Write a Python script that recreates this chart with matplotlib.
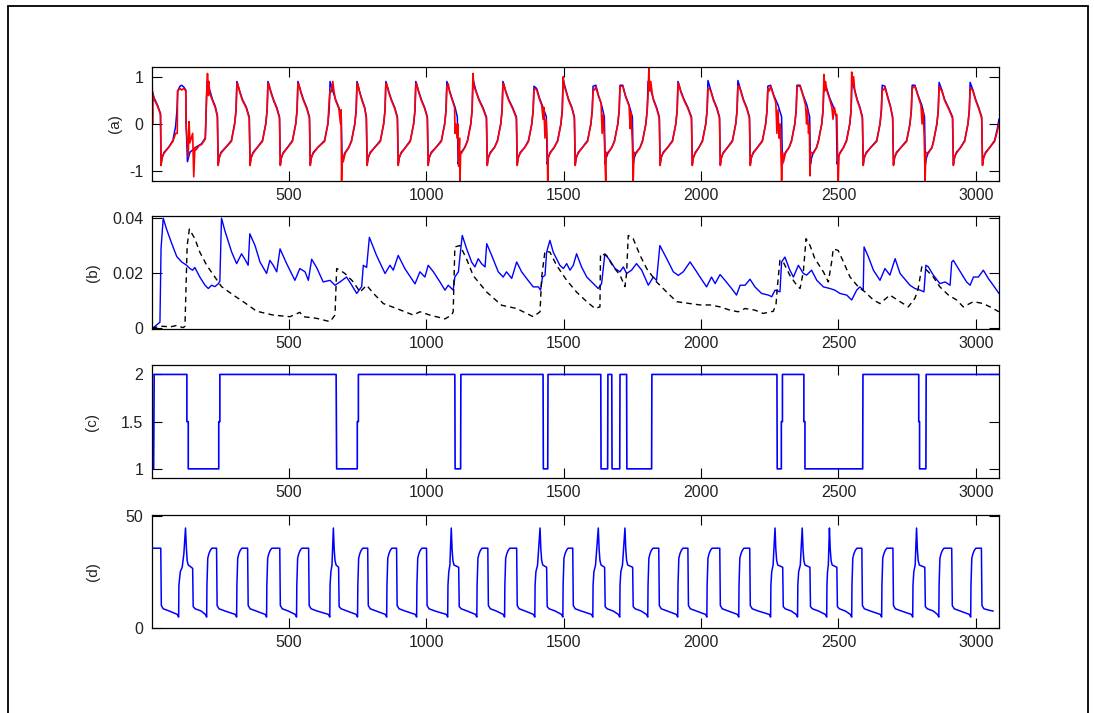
import matplotlib
matplotlib.use("Agg")
import matplotlib.pyplot as plt
from matplotlib.patches import Rectangle

# ===================== data =====================
# (a) blue: original signal, vertices (sample, value)
a_blue = [
    (1, 0.75), (10, 0.55), (22, 0.4), (33, 0.22),
    (35, -0.85), (39, -0.72), (46, -0.6), (62, -0.5), (78, -0.35), (88, -0.05), (93, 0.3), (96, 0.7),
    (104, 0.8), (110, 0.82), (118, 0.78), (125, 0.72), (126, 0.05),
    (131, -0.8), (140, -0.6), (160, -0.5), (182, -0.42), (196, -0.3), (199, 0.2), (202, 0.9),
    (212, 0.72), (222, 0.52), (232, 0.38), (240, 0.18),
    (243, -0.85), (247, -0.72), (253, -0.6), (270, -0.5), (291, -0.35), (303, 0.02), (308, 0.3), (311, 0.9),
    (321, 0.7), (331, 0.52), (345, 0.36), (356, 0.15),
    (359, -0.85), (363, -0.72), (370, -0.6), (385, -0.5), (404, -0.35), (416, 0.0), (421, 0.3), (424, 0.9),
    (434, 0.7), (444, 0.52), (456, 0.35), (466, 0.15),
    (469, -0.85), (473, -0.72), (480, -0.6), (495, -0.5), (513, -0.35), (525, 0.0), (530, 0.3), (533, 0.9),
    (543, 0.7), (553, 0.52), (565, 0.35), (575, 0.15),
    (578, -0.85), (582, -0.72), (589, -0.6), (605, -0.5), (630, -0.35), (642, 0.0), (647, 0.3), (650, 0.9),
    (660, 0.7), (670, 0.52), (682, 0.35), (691, 0.15),
    (694, -0.85), (698, -0.72), (705, -0.6), (718, -0.5), (728, -0.35), (740, 0.0), (745, 0.3), (748, 0.9),
    (757, 0.7), (766, 0.52), (776, 0.35), (782, 0.15),
    (785, -0.85), (789, -0.72), (796, -0.6), (812, -0.5), (833, -0.35), (845, 0.0), (850, 0.3), (853, 0.9),
    (863, 0.7), (873, 0.52), (885, 0.35), (895, 0.15),
    (898, -0.85), (902, -0.72), (909, -0.6), (924, -0.5), (942, -0.35), (954, 0.0), (959, 0.3), (962, 0.9),
    (972, 0.7), (982, 0.52), (994, 0.35), (1004, 0.15),
    (1007, -0.85), (1011, -0.72), (1018, -0.6), (1035, -0.5), (1055, -0.35), (1067, 0.0), (1072, 0.3), (1075, 0.9),
    (1085, 0.7), (1095, 0.52), (1105, 0.35), (1113, 0.15),
    (1116, -0.85), (1120, -0.72), (1127, -0.6), (1140, -0.5), (1150, -0.35), (1162, 0.0), (1167, 0.3), (1170, 0.95),
    (1180, 0.72), (1192, 0.52), (1206, 0.35), (1219, 0.15),
    (1222, -0.85), (1226, -0.72), (1233, -0.6), (1248, -0.5), (1259, -0.35), (1271, 0.0), (1276, 0.3), (1279, 0.9),
    (1289, 0.7), (1300, 0.52), (1314, 0.35), (1328, 0.15),
    (1331, -0.85), (1335, -0.72), (1342, -0.6), (1358, -0.5), (1372, -0.35), (1384, 0.0), (1389, 0.3), (1392, 0.8),
    (1402, 0.75), (1412, 0.55), (1425, 0.35), (1437, 0.15),
    (1440, -0.85), (1444, -0.72), (1451, -0.6), (1465, -0.5), (1478, -0.35), (1490, 0.0), (1495, 0.3), (1498, 0.95),
    (1508, 0.72), (1518, 0.52), (1530, 0.35), (1539, 0.15),
    (1542, -0.85), (1546, -0.72), (1553, -0.6), (1568, -0.5), (1587, -0.35), (1599, 0.0), (1604, 0.3), (1607, 0.8),
    (1617, 0.82), (1627, 0.6), (1638, 0.4), (1648, 0.15),
    (1651, -0.85), (1655, -0.72), (1662, -0.6), (1675, -0.5), (1685, -0.35), (1697, 0.0), (1702, 0.3), (1705, 0.82),
    (1715, 0.82), (1725, 0.6), (1738, 0.4), (1750, 0.15),
    (1753, -0.85), (1757, -0.72), (1764, -0.6), (1778, -0.5), (1787, -0.35), (1799, 0.0), (1804, 0.3), (1807, 0.9),
    (1817, 0.72), (1827, 0.52), (1838, 0.35), (1848, 0.15),
    (1851, -0.85), (1855, -0.72), (1862, -0.6), (1878, -0.5), (1896, -0.35), (1908, 0.0), (1913, 0.3), (1916, 0.9),
    (1926, 0.7), (1938, 0.52), (1952, 0.35), (1965, 0.15),
    (1968, -0.85), (1972, -0.72), (1979, -0.6), (1992, -0.5), (2005, -0.35), (2017, 0.0), (2022, 0.3), (2025, 0.92),
    (2035, 0.72), (2045, 0.52), (2057, 0.35), (2067, 0.15),
    (2070, -0.85), (2074, -0.72), (2081, -0.6), (2096, -0.5), (2114, -0.35), (2126, 0.0), (2131, 0.3), (2134, 0.92),
    (2144, 0.72), (2154, 0.52), (2166, 0.35), (2176, 0.15),
    (2179, -0.85), (2183, -0.72), (2190, -0.6), (2205, -0.5), (2223, -0.35), (2235, 0.0), (2240, 0.3), (2243, 0.8),
    (2253, 0.82), (2265, 0.6), (2280, 0.4), (2293, 0.15),
    (2296, -0.85), (2300, -0.72), (2307, -0.6), (2320, -0.5), (2329, -0.35), (2341, 0.0), (2346, 0.3), (2349, 0.82),
    (2360, 0.82), (2372, 0.6), (2385, 0.4), (2395, 0.15),
    (2398, -0.85), (2402, -0.72), (2409, -0.6), (2420, -0.5), (2427, -0.35), (2439, 0.0), (2444, 0.3), (2447, 0.85),
    (2457, 0.75), (2468, 0.55), (2480, 0.38), (2492, 0.15),
    (2495, -0.85), (2499, -0.72), (2506, -0.6), (2518, -0.5), (2529, -0.35), (2541, 0.0), (2546, 0.3), (2549, 0.9),
    (2559, 0.72), (2568, 0.52), (2578, 0.35), (2587, 0.15),
    (2590, -0.85), (2594, -0.72), (2601, -0.6), (2617, -0.5), (2639, -0.35), (2651, 0.0), (2656, 0.3), (2659, 0.82),
    (2669, 0.8), (2679, 0.58), (2689, 0.38), (2697, 0.15),
    (2700, -0.85), (2704, -0.72), (2711, -0.6), (2727, -0.5), (2748, -0.35), (2760, 0.0), (2765, 0.3), (2768, 0.82),
    (2778, 0.82), (2790, 0.6), (2803, 0.4), (2813, 0.15),
    (2816, -0.85), (2820, -0.72), (2827, -0.6), (2840, -0.5), (2846, -0.35), (2858, 0.0), (2863, 0.3), (2866, 0.88),
    (2876, 0.72), (2886, 0.52), (2900, 0.35), (2915, 0.15),
    (2918, -0.85), (2922, -0.72), (2929, -0.6), (2944, -0.5), (2959, -0.35), (2971, 0.0), (2976, 0.3), (2979, 0.88),
    (2989, 0.72), (2999, 0.52), (3010, 0.35), (3021, 0.15),
    (3024, -0.85), (3028, -0.72), (3035, -0.6), (3050, -0.5), (3068, -0.35), (3078, -0.1), (3084, 0.1),
]

# (a) red: reconstructed signal with spikes
a_red = [
    (1, 0.8), (3, 0.8), (4, 0.0), (5, 0.62), (10, 0.52), (22, 0.38), (33, 0.2),
    (35, -0.88), (39, -0.7), (46, -0.62), (62, -0.5), (78, -0.37), (88, -0.2), (94, -0.2), (95, 0.7),
    (104, 0.75), (110, 0.72), (118, 0.75), (125, 0.7), (126, 0.0), (134, -0.7), (137, 0.05), (140, -0.4),
    (150, -0.2), (154, -1.12), (158, -0.5), (162, -0.55), (175, -0.45), (182, -0.44), (196, -0.32),
    (199, 0.3), (201, 0.6), (204, 1.07), (207, 0.6), (209, 0.9), (212, 0.65), (222, 0.5), (232, 0.35), (240, 0.15),
    (243, -0.88), (247, -0.7), (253, -0.62), (270, -0.5), (291, -0.37), (303, 0.0), (308, 0.28), (311, 0.85),
    (314, 0.85), (321, 0.68), (331, 0.5), (345, 0.34), (356, 0.12),
    (359, -0.88), (363, -0.7), (370, -0.62), (385, -0.5), (404, -0.37), (416, 0.0), (421, 0.28), (424, 0.85),
    (427, 0.85), (434, 0.68), (444, 0.5), (456, 0.33), (466, 0.12),
    (469, -0.88), (473, -0.7), (480, -0.62), (495, -0.5), (513, -0.37), (525, 0.0), (530, 0.28), (533, 0.85),
    (536, 0.85), (543, 0.68), (553, 0.5), (565, 0.33), (575, 0.12),
    (578, -0.88), (582, -0.7), (589, -0.62), (605, -0.5), (630, -0.37), (642, 0.0), (647, 0.5), (650, 0.7),
    (655, 0.68), (660, 0.9), (664, 0.7), (670, 0.5), (682, 0.33), (688, 0.0), (690, 0.3), (692, -1.2),
    (694, -0.6), (698, -0.8), (705, -0.62), (718, -0.5), (728, -0.37), (740, 0.0), (745, 0.28), (748, 0.85),
    (751, 0.85), (757, 0.68), (766, 0.5), (776, 0.33), (782, 0.12),
    (785, -0.88), (789, -0.7), (796, -0.62), (812, -0.5), (833, -0.37), (845, 0.0), (850, 0.28), (853, 0.85),
    (856, 0.85), (863, 0.68), (873, 0.5), (885, 0.33), (895, 0.12),
    (898, -0.88), (902, -0.7), (909, -0.62), (924, -0.5), (942, -0.37), (954, 0.0), (959, 0.28), (962, 0.85),
    (965, 0.85), (972, 0.68), (982, 0.5), (994, 0.33), (1004, 0.12),
    (1007, -0.88), (1011, -0.7), (1018, -0.62), (1035, -0.5), (1055, -0.37), (1067, 0.0), (1072, 0.28),
    (1075, 0.8), (1080, 0.85), (1085, 0.68), (1095, 0.5), (1103, 0.35), (1105, -0.2), (1108, 0.0),
    (1112, -0.3), (1115, 0.0), (1118, -0.9), (1121, -0.3), (1123, -1.2), (1125, -0.6), (1128, -0.62),
    (1140, -0.5), (1150, -0.37), (1162, 0.0), (1167, 0.3), (1170, 1.07), (1173, 0.8), (1180, 0.7),
    (1192, 0.5), (1206, 0.33), (1219, 0.12),
    (1222, -0.88), (1226, -0.7), (1233, -0.62), (1248, -0.5), (1259, -0.37), (1271, 0.0), (1276, 0.28),
    (1279, 0.85), (1282, 0.85), (1289, 0.68), (1300, 0.5), (1314, 0.33), (1328, 0.12),
    (1331, -0.88), (1335, -0.7), (1342, -0.62), (1358, -0.5), (1372, -0.37), (1384, 0.0), (1389, 0.28),
    (1392, 0.72), (1396, 0.75), (1402, 0.72), (1412, 0.52), (1420, 0.4), (1425, 0.1), (1428, 0.35),
    (1432, -0.3), (1436, 0.1), (1440, -0.4), (1442, -1.2), (1444, -0.7), (1451, -0.62), (1465, -0.5),
    (1478, -0.37), (1490, 0.0), (1495, 0.3), (1498, 1.0), (1502, 0.8), (1508, 0.7), (1518, 0.5),
    (1530, 0.33), (1539, 0.12),
    (1542, -0.88), (1546, -0.7), (1553, -0.62), (1568, -0.5), (1587, -0.37), (1599, 0.0), (1604, 0.28),
    (1607, 0.72), (1612, 0.72), (1617, 0.78), (1627, 0.58), (1636, 0.45), (1640, -0.2), (1644, 0.2),
    (1648, -0.3), (1651, -0.9), (1653, -1.2), (1655, -0.6), (1662, -0.62), (1675, -0.5), (1685, -0.37),
    (1697, 0.0), (1702, 0.28), (1705, 0.8), (1715, 0.8), (1725, 0.58), (1738, 0.38), (1742, -0.1),
    (1745, 0.25), (1750, -0.4), (1753, -1.2), (1756, -0.6), (1764, -0.62), (1778, -0.5), (1787, -0.37),
    (1799, 0.0), (1804, 0.3), (1807, 0.6), (1810, 1.18), (1813, 0.7), (1817, 0.9), (1822, 0.65),
    (1827, 0.5), (1838, 0.33), (1848, 0.12),
    (1851, -0.88), (1855, -0.7), (1862, -0.62), (1878, -0.5), (1896, -0.37), (1908, 0.0), (1913, 0.28),
    (1916, 0.85), (1919, 0.85), (1926, 0.68), (1938, 0.5), (1952, 0.33), (1965, 0.12),
    (1968, -0.88), (1972, -0.7), (1979, -0.62), (1992, -0.5), (2005, -0.37), (2017, 0.0), (2022, 0.28),
    (2025, 0.75), (2030, 0.75), (2035, 0.7), (2045, 0.5), (2057, 0.33), (2067, 0.12),
    (2070, -0.88), (2074, -0.7), (2081, -0.62), (2096, -0.5), (2114, -0.37), (2126, 0.0), (2131, 0.28),
    (2134, 0.8), (2138, 0.8), (2144, 0.7), (2154, 0.5), (2166, 0.33), (2176, 0.12),
    (2179, -0.88), (2183, -0.7), (2190, -0.62), (2205, -0.5), (2223, -0.37), (2235, 0.0), (2240, 0.28),
    (2243, 0.75), (2248, 0.7), (2253, 0.8), (2265, 0.58), (2272, 0.45), (2276, -0.2), (2280, 0.3),
    (2284, -0.3), (2288, 0.0), (2291, -0.7), (2293, -1.2), (2296, -0.6), (2300, -0.8), (2307, -0.62),
    (2320, -0.5), (2329, -0.37), (2341, 0.0), (2346, 0.28), (2349, 0.8), (2360, 0.8), (2372, 0.58),
    (2380, 0.4), (2384, 0.0), (2387, 0.3), (2391, -0.2), (2394, 0.0), (2396, -1.1), (2399, -0.6),
    (2409, -0.62), (2420, -0.5), (2427, -0.37), (2439, 0.0), (2444, 0.3), (2447, 1.05), (2450, 0.7),
    (2453, 0.9), (2457, 0.72), (2468, 0.52), (2476, 0.35), (2480, 0.1), (2485, 0.35), (2490, 0.2),
    (2494, 0.2), (2497, -0.8), (2499, -1.2), (2502, -0.65), (2506, -0.62), (2518, -0.5), (2529, -0.37),
    (2541, 0.0), (2546, 0.3), (2548, 1.1), (2551, 0.8), (2555, 1.0), (2559, 0.7), (2568, 0.5),
    (2578, 0.33), (2587, 0.12),
    (2590, -0.88), (2594, -0.7), (2601, -0.62), (2617, -0.5), (2639, -0.37), (2651, 0.0), (2656, 0.28),
    (2659, 0.72), (2664, 0.72), (2669, 0.78), (2679, 0.56), (2689, 0.36), (2697, 0.12),
    (2700, -0.88), (2704, -0.7), (2711, -0.62), (2727, -0.5), (2748, -0.37), (2760, 0.0), (2765, 0.28),
    (2768, 0.75), (2778, 0.8), (2790, 0.58), (2800, 0.4), (2804, 0.0), (2808, 0.3), (2812, -0.3),
    (2815, -1.2), (2818, -0.6), (2827, -0.62), (2840, -0.5), (2846, -0.37), (2858, 0.0), (2863, 0.28),
    (2866, 0.8), (2870, 0.75), (2876, 0.7), (2886, 0.5), (2900, 0.33), (2915, 0.12),
    (2918, -0.88), (2922, -0.7), (2929, -0.62), (2944, -0.5), (2959, -0.37), (2971, 0.0), (2976, 0.28),
    (2979, 0.75), (2983, 0.75), (2989, 0.7), (2999, 0.5), (3010, 0.33), (3021, 0.12),
    (3024, -0.88), (3028, -0.7), (3035, -0.62), (3050, -0.5), (3068, -0.37), (3078, -0.15), (3084, 0.0),
]

# (b) blue solid
b_blue = [
    (1, 0.0), (7, 0.0), (31, 0.002), (35, 0.029), (43, 0.04), (55, 0.036), (73, 0.031), (92, 0.026),
    (110, 0.024), (128, 0.0228), (140, 0.0216), (150, 0.021), (158, 0.022), (176, 0.0185), (195, 0.0155),
    (207, 0.0143), (219, 0.0155), (231, 0.015), (243, 0.016), (249, 0.017), (255, 0.04), (267, 0.0355),
    (292, 0.0276), (310, 0.0234), (328, 0.027), (340, 0.025), (352, 0.0228), (358, 0.0343), (377, 0.030),
    (395, 0.024), (419, 0.0198), (431, 0.0246), (443, 0.0228), (456, 0.0204), (468, 0.0288), (492, 0.0234),
    (522, 0.0173), (540, 0.0216), (559, 0.0204), (571, 0.0173), (583, 0.025), (601, 0.022), (625, 0.0167),
    (650, 0.0173), (668, 0.0155), (686, 0.0167), (710, 0.0185), (729, 0.0155), (747, 0.0125), (765, 0.015),
    (771, 0.0228), (783, 0.022), (793, 0.033), (819, 0.0264), (850, 0.0198), (868, 0.0228), (880, 0.021),
    (898, 0.0264), (922, 0.0216), (959, 0.016), (977, 0.0204), (995, 0.0185), (1007, 0.0228),
    (1026, 0.0204), (1050, 0.0167), (1068, 0.0137), (1080, 0.0155), (1092, 0.0143), (1098, 0.0137),
    (1104, 0.0185), (1117, 0.0204), (1123, 0.0264), (1131, 0.0337), (1147, 0.0288), (1165, 0.024),
    (1177, 0.0222), (1189, 0.0252), (1201, 0.0234), (1214, 0.0222), (1220, 0.0307), (1238, 0.0264),
    (1262, 0.0204), (1280, 0.0185), (1292, 0.0204), (1311, 0.018), (1329, 0.024), (1347, 0.0204),
    (1365, 0.018), (1389, 0.0149), (1408, 0.0149), (1416, 0.0137), (1423, 0.0185), (1432, 0.0191),
    (1438, 0.0276), (1450, 0.0319), (1462, 0.0276), (1486, 0.0228), (1499, 0.0216), (1511, 0.0234),
    (1523, 0.021), (1535, 0.0228), (1547, 0.027), (1565, 0.0222), (1584, 0.0185), (1608, 0.0161),
    (1626, 0.0143), (1638, 0.0161), (1650, 0.027), (1668, 0.0246), (1687, 0.0216), (1705, 0.0204),
    (1717, 0.0222), (1729, 0.0198), (1747, 0.021), (1765, 0.0234), (1784, 0.021), (1808, 0.0155),
    (1826, 0.0185), (1838, 0.0173), (1850, 0.030), (1875, 0.0252), (1899, 0.0204), (1917, 0.0191),
    (1935, 0.0204), (1960, 0.024), (1984, 0.0204), (1996, 0.0185), (2020, 0.0149), (2038, 0.0185),
    (2051, 0.0161), (2069, 0.0194), (2087, 0.0173), (2111, 0.0143), (2129, 0.0119), (2142, 0.0155),
    (2160, 0.0155), (2178, 0.0177), (2196, 0.0149), (2220, 0.0125), (2245, 0.0119), (2257, 0.0113),
    (2269, 0.0137), (2287, 0.0131), (2293, 0.024), (2305, 0.0258), (2323, 0.021), (2336, 0.0185),
    (2354, 0.0228), (2372, 0.0198), (2384, 0.0192), (2402, 0.021), (2421, 0.0173), (2445, 0.0149),
    (2469, 0.0143), (2487, 0.0137), (2505, 0.0125), (2530, 0.0119), (2548, 0.0101), (2566, 0.0137),
    (2578, 0.0149), (2590, 0.0137), (2593, 0.0295), (2609, 0.0258), (2627, 0.021), (2651, 0.0173),
    (2669, 0.0216), (2687, 0.0192), (2706, 0.0252), (2724, 0.0198), (2760, 0.0155), (2778, 0.0143),
    (2797, 0.0137), (2811, 0.0131), (2818, 0.0228), (2827, 0.0222), (2845, 0.0192), (2869, 0.0161),
    (2888, 0.0167), (2906, 0.0155), (2912, 0.024), (2918, 0.0246), (2936, 0.0216), (2966, 0.0167),
    (2979, 0.0155), (2991, 0.0185), (3009, 0.0185), (3027, 0.021), (3045, 0.018), (3063, 0.0155),
    (3084, 0.0125),
]

# (b) black dashed
b_black = [
    (1, 0.0), (7, 0.0), (40, 0.0005), (70, 0.0003), (92, 0.0008), (115, 0.0), (122, 0.0005), (130, 0.03),
    (138, 0.036), (158, 0.0325), (176, 0.0276), (201, 0.0228), (231, 0.0185), (255, 0.015), (298, 0.0119),
    (334, 0.0095), (383, 0.006), (443, 0.0046), (504, 0.004), (540, 0.0056), (553, 0.004), (601, 0.0034),
    (650, 0.0022), (668, 0.0046), (674, 0.0216), (686, 0.021), (704, 0.0198), (735, 0.0167), (759, 0.013),
    (783, 0.0155), (808, 0.0125), (844, 0.0088), (892, 0.007), (953, 0.0046), (977, 0.0058), (1013, 0.0046),
    (1068, 0.0032), (1092, 0.0046), (1098, 0.0058), (1104, 0.0295), (1123, 0.030), (1147, 0.025),
    (1171, 0.019), (1220, 0.013), (1274, 0.0082), (1329, 0.007), (1389, 0.004), (1414, 0.0058),
    (1420, 0.0185), (1432, 0.028), (1450, 0.0276), (1474, 0.0228), (1511, 0.0173), (1547, 0.013),
    (1584, 0.0095), (1614, 0.007), (1632, 0.0076), (1634, 0.027), (1656, 0.0264), (1681, 0.0222),
    (1705, 0.0192), (1723, 0.015), (1729, 0.020), (1735, 0.0337), (1753, 0.0325), (1778, 0.0264),
    (1802, 0.0216), (1838, 0.0167), (1875, 0.013), (1911, 0.0095), (1960, 0.0088), (1996, 0.0083),
    (2032, 0.0083), (2069, 0.0076), (2105, 0.0064), (2135, 0.0058), (2160, 0.007), (2196, 0.0064),
    (2226, 0.0052), (2263, 0.006), (2273, 0.0088), (2277, 0.0143), (2287, 0.0246), (2299, 0.024),
    (2323, 0.0191), (2348, 0.0155), (2360, 0.0143), (2372, 0.0204), (2382, 0.0325), (2396, 0.0301),
    (2414, 0.0252), (2445, 0.0204), (2463, 0.0167), (2475, 0.024), (2481, 0.0288), (2499, 0.0282),
    (2518, 0.024), (2542, 0.0185), (2572, 0.0149), (2596, 0.0131), (2627, 0.0101), (2651, 0.0088),
    (2687, 0.0119), (2724, 0.0095), (2754, 0.0076), (2778, 0.0107), (2790, 0.0143), (2803, 0.0222),
    (2821, 0.021), (2845, 0.0185), (2869, 0.0149), (2900, 0.0119), (2930, 0.0101), (2954, 0.0076),
    (2991, 0.0095), (3027, 0.0088), (3051, 0.0076), (3084, 0.0058),
]

# (c) switching state 1 / 2
c_state = [
    (1, 1), (8, 1), (10, 2), (129, 2), (129, 1.5), (134, 1.5), (134, 1), (245, 1), (245, 1.5), (249, 1.5),
    (249, 2), (672, 2), (674, 1), (749, 1), (749, 1.5), (753, 1.5), (753, 2), (1104, 2), (1105, 1),
    (1125, 1), (1126, 2), (1425, 2), (1426, 1), (1442, 1), (1443, 2), (1635, 2), (1636, 1), (1660, 1),
    (1661, 2), (1675, 2), (1676, 1), (1704, 1), (1705, 2), (1729, 2), (1730, 1), (1820, 1), (1821, 2),
    (2276, 2), (2277, 1), (2292, 1), (2292, 1.5), (2296, 1.5), (2296, 2), (2374, 2), (2374, 1.5),
    (2378, 1.5), (2378, 1), (2588, 1), (2589, 2), (2792, 2), (2792, 1.5), (2795, 1.5), (2795, 1),
    (2818, 1), (2819, 2), (3084, 2),
]

# (d)
d_level = [
    (1, 35.5), (34, 35.5), (36, 10), (43, 8.5), (65, 7.5), (94, 6), (99, 4.8),
    (100, 19), (105, 25), (112, 27), (118, 33), (124, 44.5), (127, 36), (130, 30), (134, 28), (140, 27.5), (150, 26.5),
    (152, 9.5), (159, 8.5), (181, 7.5), (196, 6), (201, 4.8),
    (202, 19), (205, 31), (209, 33), (214, 34.5), (220, 35.5), (237, 35.5),
    (239, 10), (246, 8.5), (268, 7.5), (305, 6), (310, 4.8),
    (311, 19), (314, 31), (318, 33), (323, 34.5), (329, 35.5), (350, 35.5),
    (352, 10), (359, 8.5), (381, 7.5), (414, 6), (419, 4.8),
    (420, 19), (423, 31), (427, 33), (432, 34.5), (438, 35.5), (467, 35.5),
    (469, 10), (476, 8.5), (498, 7.5), (523, 6), (528, 4.8),
    (529, 19), (532, 31), (536, 33), (541, 34.5), (547, 35.5), (572, 35.5),
    (574, 10), (581, 8.5), (603, 7.5), (644, 6), (649, 4.8),
    (650, 19), (653, 25), (657, 28), (662, 44.5), (665, 35), (668, 30), (672, 28), (681, 27),
    (683, 9.5), (690, 8.5), (712, 7.5), (745, 6), (750, 4.8),
    (751, 19), (754, 31), (758, 33), (763, 34.5), (769, 35.5), (787, 35.5),
    (789, 10), (796, 8.5), (818, 7.5), (851, 6), (856, 4.8),
    (857, 19), (860, 31), (864, 33), (869, 34.5), (875, 35.5), (892, 35.5),
    (894, 10), (901, 8.5), (923, 7.5), (960, 6), (965, 4.8),
    (966, 19), (969, 31), (973, 33), (978, 34.5), (984, 35.5), (1001, 35.5),
    (1003, 10), (1010, 8.5), (1032, 7.5), (1073, 6), (1078, 4.8),
    (1079, 19), (1082, 25), (1086, 28), (1091, 44.5), (1094, 35), (1097, 30), (1101, 28), (1118, 27),
    (1120, 9.5), (1127, 8.5), (1149, 7.5), (1179, 6), (1184, 4.8),
    (1185, 19), (1188, 31), (1192, 33), (1197, 34.5), (1203, 35.5), (1224, 35.5),
    (1226, 10), (1233, 8.5), (1255, 7.5), (1280, 6), (1285, 4.8),
    (1286, 19), (1289, 31), (1293, 33), (1298, 34.5), (1304, 35.5), (1329, 35.5),
    (1331, 10), (1338, 8.5), (1360, 7.5), (1390, 6), (1395, 4.8),
    (1396, 19), (1399, 25), (1405, 28), (1414, 44.5), (1417, 35), (1420, 30), (1424, 28), (1438, 27),
    (1440, 9.5), (1447, 8.5), (1469, 7.5), (1492, 6), (1497, 4.8),
    (1498, 19), (1501, 31), (1505, 33), (1510, 34.5), (1516, 35.5), (1533, 35.5),
    (1535, 10), (1542, 8.5), (1564, 7.5), (1601, 6), (1606, 4.8),
    (1607, 19), (1610, 25), (1616, 28), (1626, 44.5), (1629, 35), (1632, 30), (1636, 28), (1649, 27),
    (1651, 9.5), (1658, 8.5), (1680, 7.5), (1699, 6), (1704, 4.8),
    (1705, 19), (1708, 25), (1714, 28), (1723, 44.5), (1726, 35), (1729, 30), (1733, 28), (1751, 27),
    (1753, 9.5), (1760, 8.5), (1782, 7.5), (1801, 6), (1806, 4.8),
    (1807, 19), (1810, 31), (1814, 33), (1819, 34.5), (1825, 35.5), (1846, 35.5),
    (1848, 10), (1855, 8.5), (1877, 7.5), (1910, 6), (1915, 4.8),
    (1916, 19), (1919, 31), (1923, 33), (1928, 34.5), (1934, 35.5), (1952, 35.5),
    (1954, 10), (1961, 8.5), (1983, 7.5), (2016, 6), (2021, 4.8),
    (2022, 19), (2025, 31), (2029, 33), (2034, 34.5), (2040, 35.5), (2068, 35.5),
    (2070, 10), (2077, 8.5), (2099, 7.5), (2132, 6), (2137, 4.8),
    (2138, 19), (2141, 31), (2145, 33), (2150, 34.5), (2156, 35.5), (2177, 35.5),
    (2179, 10), (2186, 8.5), (2208, 7.5), (2248, 6), (2253, 4.8),
    (2254, 19), (2257, 25), (2262, 28), (2269, 44.5), (2272, 35), (2275, 30), (2279, 28), (2297, 27),
    (2299, 9.5), (2306, 8.5), (2328, 7.5), (2346, 6), (2351, 4.8),
    (2352, 19), (2355, 25), (2361, 28), (2368, 44.5), (2371, 35), (2374, 30), (2378, 28), (2396, 27),
    (2398, 9.5), (2405, 8.5), (2427, 7.5), (2452, 6), (2457, 4.8),
    (2458, 19), (2460, 25), (2463, 28), (2467, 44.5), (2470, 35), (2473, 30), (2477, 28), (2494, 27),
    (2496, 9.5), (2503, 8.5), (2525, 7.5), (2543, 6), (2548, 4.8),
    (2549, 19), (2552, 31), (2556, 33), (2561, 34.5), (2567, 35.5), (2585, 35.5),
    (2587, 10), (2594, 8.5), (2616, 7.5), (2652, 6), (2657, 4.8),
    (2658, 19), (2661, 31), (2665, 33), (2670, 34.5), (2676, 35.5), (2698, 35.5),
    (2700, 10), (2707, 8.5), (2729, 7.5), (2765, 6), (2770, 4.8),
    (2771, 19), (2774, 25), (2779, 28), (2784, 44.5), (2787, 35), (2790, 30), (2794, 28), (2814, 27),
    (2816, 9.5), (2823, 8.5), (2845, 7.5), (2860, 6), (2865, 4.8),
    (2866, 19), (2869, 31), (2873, 33), (2878, 34.5), (2884, 35.5), (2912, 35.5),
    (2914, 10), (2921, 8.5), (2943, 7.5), (2976, 6), (2981, 4.8),
    (2982, 19), (2985, 31), (2989, 33), (2994, 34.5), (3000, 35.5), (3020, 35.5),
    (3022, 10), (3029, 8.5), (3050, 7.8), (3062, 7.5),
]

x_ticks = [500, 1000, 1500, 2000, 2500, 3000]
panel_labels = ['(a)', '(b)', '(c)', '(d)']
y_ticks = [[-1, 0, 1], [0, 0.02, 0.04], [1, 1.5, 2], [0, 50]]
y_ticklabels = [['-1', '0', '1'], ['0', '0.02', '0.04'], ['1', '1.5', '2'], ['0', '50']]
y_limits = [(-1.2, 1.2), (-0.0006, 0.0408), (0.9, 2.1), (-0.2, 50.3)]

# ===================== figure =====================
plt.rcParams['font.family'] = ['Liberation Sans', 'DejaVu Sans']
W, H = 1094, 713
fig = plt.figure(figsize=(W / 100, H / 100), dpi=100)

# outer frame of the exported figure window
fig.patches.append(Rectangle((8 / W, -0.02), 1080 / W, 1 - 6 / H + 0.02, transform=fig.transFigure,
                             fill=False, edgecolor='black', linewidth=1.3))

left, width = 151.7 / W, (999 - 151.7) / W
tops = [67.3, 216.0, 365.0, 515.0]
axh = 113.3
label_x = [115, 93, 92, 93]   # pixel centres of the panel labels

axes = []
for i, top in enumerate(tops):
    ax = fig.add_axes([left, 1 - (top + axh) / H, width, axh / H])
    axes.append(ax)

def unzip(pts):
    return [p[0] for p in pts], [p[1] for p in pts]

ax_a, ax_b, ax_c, ax_d = axes
ax_a.plot(*unzip(a_blue), color='blue', linewidth=1.1)
ax_a.plot(*unzip(a_red), color='red', linewidth=1.2)
ax_b.plot(*unzip(b_blue), color='blue', linewidth=1.0)
ax_b.plot(*unzip(b_black), color='black', linewidth=1.0, dashes=(4, 3))
ax_c.plot(*unzip(c_state), color='blue', linewidth=1.2)
ax_d.plot(*unzip(d_level), color='blue', linewidth=1.1)

for i, ax in enumerate(axes):
    ax.set_xlim(1, 3084)
    ax.set_ylim(*y_limits[i])
    ax.set_xticks(x_ticks)
    ax.set_yticks(y_ticks[i])
    ax.set_yticklabels(y_ticklabels[i])
    ax.tick_params(direction='in', length=7, width=0.8, top=True, right=True,
                   labelsize=11.5, labelcolor='#222222', pad=5)
    ax.tick_params(axis='y', pad=6)
    for s in ax.spines.values():
        s.set_linewidth(0.9)
    fig.text(label_x[i] / W, 1 - (tops[i] + axh / 2) / H, panel_labels[i], rotation=90,
             ha='center', va='center', fontsize=11, color='#222222')

plt.savefig('out.png', dpi=100)
